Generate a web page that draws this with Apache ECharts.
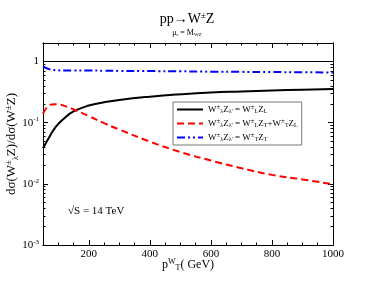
<!DOCTYPE html>
<html><head><meta charset="utf-8">
<script src="https://cdn.jsdelivr.net/npm/echarts@6/dist/echarts.min.js"></script>
<style>html,body{margin:0;padding:0;background:#fff}#c{width:374px;height:289px}</style>
</head><body><div id="c"></div>
<script>
var pT = [50,60,70,80,90,100,120,150,200,250,300,400,500,600,700,800,900,1000];
var fracLL = [0.038,0.047,0.057,0.07,0.083,0.095,0.118,0.152,0.19,0.215,0.235,0.265,0.29,0.31,0.323,0.335,0.345,0.355];
var fracLT = [0.14,0.17,0.19,0.198,0.2,0.198,0.188,0.165,0.128,0.098,0.077,0.049,0.033,0.024,0.018,0.014,0.0118,0.0098];
var fracTT = [0.83,0.78,0.75,0.73,0.72,0.715,0.71,0.71,0.71,0.705,0.70,0.695,0.69,0.68,0.675,0.67,0.665,0.66];
var xMajor = [200,400,600,800,1000];
var xMinor = [100,150,250,300,350,450,500,550,650,700,750,850,900,950];
var yMajor = [0.001,0.01,0.1,1];
var yMinor = [];
[0.001,0.01,0.1,1].forEach(function(d){for(var k=2;k<=9;k++){var v=+(d*k).toPrecision(3); if(v<=2) yMinor.push(v);}});

var FONT = 'Liberation Serif';
function zip(a,b){return a.map(function(v,i){return [v,b[i]];});}
var chart = echarts.init(document.getElementById('c'));
var tickStyle = {color:'#000', width:1};
function xAxis(pos, vals, len, labels){
  return {type:'value', position:pos, min:50, max:1000,
    axisLine:{show:true, onZero:false, lineStyle:{color:'#000', width:1}},
    axisTick:{show:true, inside:true, length:len, customValues:vals, lineStyle:tickStyle},
    axisLabel:{show:labels, customValues:xMajor, color:'#000', fontFamily:FONT, fontSize:11, margin:4,
      formatter:function(v){return String(v);}},
    splitLine:{show:false}};
}
function yAxis(pos, vals, len, labels){
  return {type:'log', logBase:10, position:pos, min:0.001, max:2,
    axisLine:{show:true, onZero:false, lineStyle:{color:'#000', width:1}},
    axisTick:{show:true, inside:true, length:len, customValues:vals, lineStyle:tickStyle},
    axisLabel:{show:labels, customValues:yMajor, color:'#000', fontFamily:FONT, fontSize:11, margin:4,
      formatter:function(v){ if (Math.abs(v-1)<1e-9) return '1'; var e=Math.round(Math.log10(v)); return '10{e|'+e+'}'; },
      rich:{e:{fontSize:7, verticalAlign:'top', fontFamily:FONT, color:'#000', padding:[0,0,6,0]}}},
    splitLine:{show:false}, minorTick:{show:false}};
}
var xA = xAxis('bottom', xMajor, 5, true);
xA.name = 'p{s|W}{b|T}( GeV)';
xA.nameLocation = 'middle'; xA.nameGap = 13; xA.nameMoveOverlap = false;
xA.nameTextStyle = {color:'#000', fontFamily:FONT, fontSize:12,
  rich:{s:{fontSize:8, fontFamily:FONT, color:'#000', padding:[0,0,6,0]},
        b:{fontSize:8, fontFamily:FONT, color:'#000', padding:[5,0,0,0]}}};
var yA = yAxis('left', yMajor, 5, true);
yA.name = 'dσ(W{s|±}{b|λ}Z)/dσ(W{s|±}Z)';
yA.nameLocation = 'middle'; yA.nameGap = 23; yA.nameMoveOverlap = false;
yA.nameTextStyle = {color:'#000', fontFamily:FONT, fontSize:13,
  rich:{s:{fontSize:9, fontFamily:FONT, color:'#000', padding:[0,0,7,0]}, b:{fontSize:8, fontFamily:FONT, color:'#000', padding:[7,0,0,0]}}};

var legRich = {s:{fontSize:7, fontFamily:FONT, color:'#000', padding:[0,0,4,0]}, b:{fontSize:6, fontFamily:FONT, color:'#000', padding:[4,0,0,0]}};
var names = [
  'W{s|±}{b|λ}Z{b|λ\'} = W{s|±}{b|L}Z{b|L}',
  'W{s|±}{b|λ}Z{b|λ\'} = W{s|±}{b|L}Z{b|T}+W{s|±}{b|T}Z{b|L}',
  'W{s|±}{b|λ}Z{b|λ\'} = W{s|±}{b|T}Z{b|T}'
];
chart.setOption({
  animation:false,
  backgroundColor:'#fff',
  title:[
    {text:'pp→W{s|±}Z', left:'center', top:6, textStyle:{fontFamily:FONT, fontSize:14, fontWeight:'normal', color:'#000',
      rich:{s:{fontSize:9, fontFamily:FONT, color:'#000', padding:[0,0,8,0]}}}},
    {text:'μ{b|r} = M{b|WZ}', left:'center', top:23, textStyle:{fontFamily:FONT, fontSize:8, fontWeight:'normal', color:'#000',
      rich:{b:{fontSize:5, fontFamily:FONT, color:'#000', padding:[4,0,0,0]}}}}
  ],
  grid:{left:43, right:41, top:43, bottom:44, containLabel:false, outerBoundsMode:'none'},
  xAxis:[xA, xAxis('bottom', xMinor, 2.5, false), xAxis('top', xMajor, 5, false), xAxis('top', xMinor, 2.5, false)],
  yAxis:[yA, yAxis('left', yMinor, 2.5, false), yAxis('right', yMajor, 5, false), yAxis('right', yMinor, 2.5, false)],
  legend:{orient:'vertical', left:173, top:102, itemWidth:26, itemHeight:10, itemGap:3,
    padding:[2,4,2,3], borderColor:'#777', borderWidth:1, backgroundColor:'#fff',
    itemStyle:{opacity:0},
    textStyle:{fontFamily:FONT, fontSize:9, color:'#000', lineHeight:11, rich:legRich},
    data:names},
  graphic:[{type:'text', left:68, top:206, style:{text:'√S = 14 TeV', font:'11px "Liberation Serif"', fill:'#000'}}],
  series:[
    {name:names[0], type:'line', smooth:true, showSymbol:false, symbol:'none', data:zip(pT,fracLL),
      lineStyle:{color:'#000', width:2, type:'solid'}, itemStyle:{color:'#000'},
      markLine:{silent:true, symbol:'none', label:{show:false}, lineStyle:{color:'#000', width:1, type:'solid'}, data:[{yAxis:1}]}},
    {name:names[1], type:'line', smooth:true, showSymbol:false, symbol:'none', data:zip(pT,fracLT),
      lineStyle:{color:'#ff0000', width:2, type:[7,4]}, itemStyle:{color:'#ff0000'}},
    {name:names[2], type:'line', smooth:true, showSymbol:false, symbol:'none', data:zip(pT,fracTT),
      lineStyle:{color:'#0000ff', width:2, type:[8,3,2,3,2,3]}, itemStyle:{color:'#0000ff'}}
  ]
});
</script></body></html>
